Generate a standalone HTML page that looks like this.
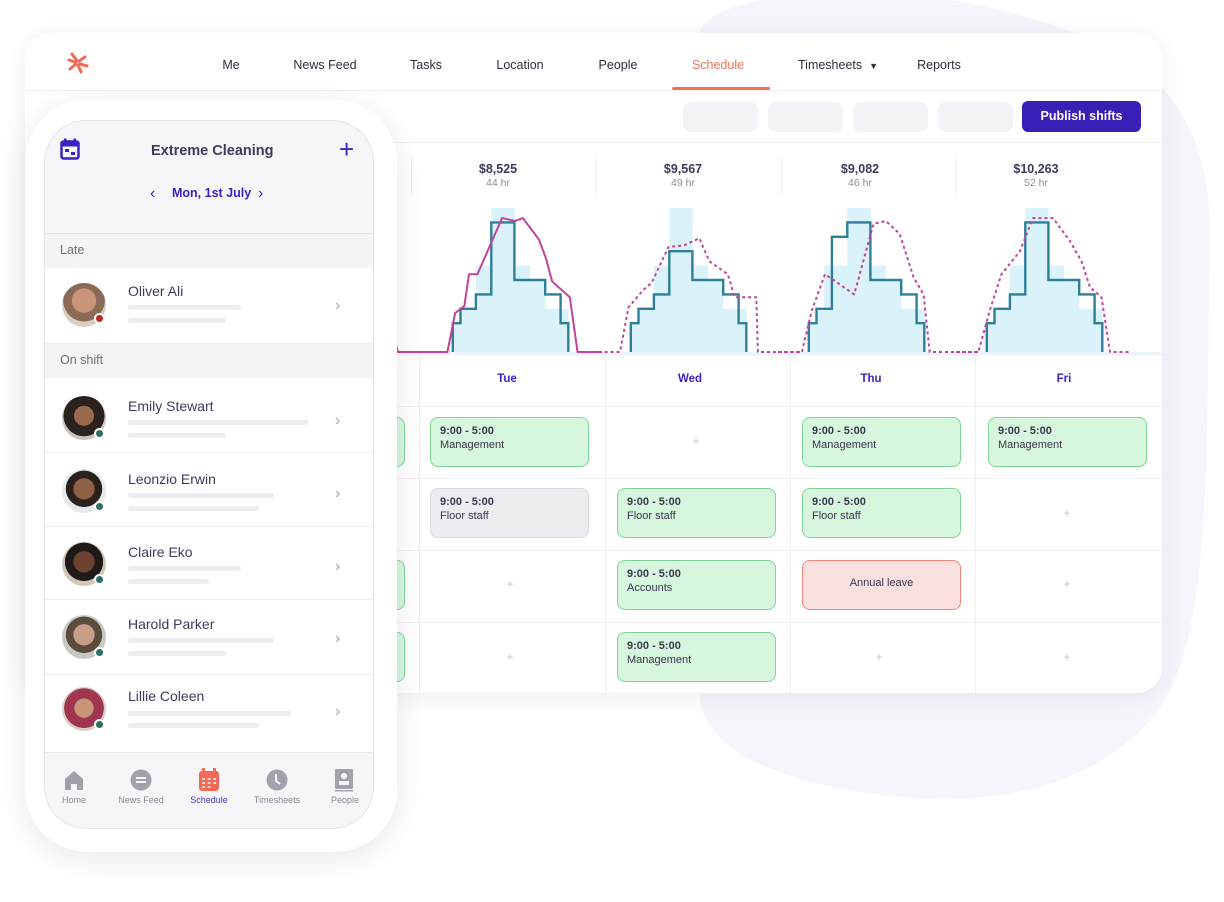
<!DOCTYPE html>
<html><head><meta charset="utf-8">
<style>
*{box-sizing:border-box;margin:0;padding:0}
body{width:1224px;height:902px;background:#fff;font-family:"Liberation Sans",sans-serif;position:relative;overflow:hidden;color:#3a3650}
.abs{position:absolute}
.nav{position:absolute;top:58px;font-size:12.5px;color:#2f2d3a;transform:translateX(-50%);white-space:nowrap}
.tb{position:absolute;top:102px;width:75px;height:30px;background:#f3f3f8;border-radius:8px}
.sum{position:absolute;top:162px;width:120px;margin-left:-60px;text-align:center}
.sum b{display:block;font-size:12.5px;color:#3f3a5c}
.sum span{display:block;font-size:10.5px;color:#8e8c99;margin-top:1px}
.vd{position:absolute;width:1px;background:#efeff3}
.hd{position:absolute;top:373px;font-size:11.5px;font-weight:bold;color:#3b22c4;transform:translateX(-50%)}
.card{position:absolute;width:159px;height:50px;border-radius:8px;border:1.5px solid #80d596;background:#d6f6dd;padding:6px 9px;font-size:11px;color:#3a3650;line-height:14px}
.card b{display:block}
.card.gray{background:#ececf1;border-color:#d9d9e0}
.card.red{background:#fbe0e0;border-color:#f0867a;text-align:center;padding-top:15px}
.plus{position:absolute;font-size:12px;color:#c4c4cc;transform:translate(-50%,-50%)}
.row{position:absolute;left:45px;width:328px;background:#fff;border-bottom:1px solid #efeff3}
.av{position:absolute;left:17px;width:44px;height:44px;border-radius:50%}
.dot{position:absolute;left:49px;width:11px;height:11px;border-radius:50%;border:2px solid #fff}
.nm{position:absolute;left:83px;font-size:14px;color:#3f3a5c}
.bar{position:absolute;left:83px;height:5px;border-radius:3px;background:#ececf1}
.chev{position:absolute;left:290px;font-size:16px;color:#a5a5ad}
.sec{position:absolute;left:45px;width:328px;height:34px;background:#f5f5f8;font-size:12.5px;color:#6f6d7a;padding:9px 0 0 15px}
.bn{position:absolute;top:795px;font-size:9px;color:#8a8896;transform:translateX(-50%)}
</style></head>
<body>
<svg class="abs" style="left:0;top:0" width="1224" height="902">
<path d="M700 30 C720 -10 880 -20 1000 10 C1120 40 1215 80 1210 250 C1205 450 1215 650 1150 720 C1080 800 960 810 850 790 C760 775 690 740 700 680 Z" fill="#f6f5fc"/>
</svg>

<div class="abs" style="left:25px;top:33px;width:1137px;height:660px;background:#fff;border-radius:26px;box-shadow:0 4px 24px rgba(40,30,80,0.08);overflow:hidden">
  <div class="abs" style="left:0;top:57px;width:1137px;height:1px;background:#efeff3"></div>
</div>

<svg class="abs" style="left:66px;top:51px" width="24" height="24" viewBox="0 0 24 24">
<g stroke="#f06a55" stroke-width="3" stroke-linecap="round" fill="none">
<path d="M11 10 L6 3"/><path d="M13 10 L19 6"/><path d="M14 13 L21 15"/><path d="M12 14 L15 21"/><path d="M10 13 L4 18"/><path d="M9 11 L3 9"/>
</g></svg>

<div class="nav" style="left:231px">Me</div>
<div class="nav" style="left:325px">News Feed</div>
<div class="nav" style="left:426px">Tasks</div>
<div class="nav" style="left:520px">Location</div>
<div class="nav" style="left:618px">People</div>
<div class="nav" style="left:718px;color:#f0705a">Schedule</div>
<div class="abs" style="left:672px;top:87px;width:98px;height:3px;background:#f0705a;border-radius:2px"></div>
<div class="nav" style="left:838px">Timesheets &nbsp;<span style="font-size:9px">▼</span></div>
<div class="nav" style="left:939px">Reports</div>

<div class="tb" style="left:683px"></div>
<div class="tb" style="left:768px"></div>
<div class="tb" style="left:853px"></div>
<div class="tb" style="left:938px"></div>
<div class="abs" style="left:1022px;top:101px;width:119px;height:31px;background:#3a1fb6;border-radius:6px;color:#fff;font-size:12.5px;font-weight:bold;text-align:center;line-height:31px">Publish shifts</div>

<div class="abs" style="left:396px;top:142px;width:766px;height:1px;background:#f0f0f3"></div>
<div class="vd" style="left:411px;top:158px;height:37px"></div>
<div class="vd" style="left:596px;top:158px;height:37px"></div>
<div class="vd" style="left:781px;top:158px;height:37px"></div>
<div class="vd" style="left:955px;top:158px;height:37px"></div>

<div class="sum" style="left:498px"><b>$8,525</b><span>44 hr</span></div>
<div class="sum" style="left:683px"><b>$9,567</b><span>49 hr</span></div>
<div class="sum" style="left:860px"><b>$9,082</b><span>46 hr</span></div>
<div class="sum" style="left:1036px"><b>$10,263</b><span>52 hr</span></div>

<svg id="chart" class="abs" style="left:0;top:0" width="1224" height="902"></svg>

<!-- grid -->
<div class="abs" style="left:396px;top:354px;width:766px;height:1px;background:#eeeef2"></div>
<div class="abs" style="left:396px;top:406px;width:766px;height:1px;background:#f0f0f3"></div>
<div class="abs" style="left:396px;top:478px;width:766px;height:1px;background:#f0f0f3"></div>
<div class="abs" style="left:396px;top:550px;width:766px;height:1px;background:#f0f0f3"></div>
<div class="abs" style="left:396px;top:622px;width:766px;height:1px;background:#f0f0f3"></div>
<div class="vd" style="left:419px;top:355px;height:338px"></div>
<div class="vd" style="left:605px;top:355px;height:338px"></div>
<div class="vd" style="left:790px;top:355px;height:338px"></div>
<div class="vd" style="left:975px;top:355px;height:338px"></div>

<div class="hd" style="left:507px">Tue</div>
<div class="hd" style="left:690px">Wed</div>
<div class="hd" style="left:871px">Thu</div>
<div class="hd" style="left:1064px">Fri</div>

<div class="card" style="left:246px;top:417px"></div>
<div class="card" style="left:246px;top:560px"></div>
<div class="card" style="left:246px;top:632px"></div>

<div class="card" style="left:430px;top:417px"><b>9:00 - 5:00</b>Management</div>
<div class="card gray" style="left:430px;top:488px"><b>9:00 - 5:00</b>Floor staff</div>
<div class="card" style="left:617px;top:488px"><b>9:00 - 5:00</b>Floor staff</div>
<div class="card" style="left:617px;top:560px"><b>9:00 - 5:00</b>Accounts</div>
<div class="card" style="left:617px;top:632px"><b>9:00 - 5:00</b>Management</div>
<div class="card" style="left:802px;top:417px"><b>9:00 - 5:00</b>Management</div>
<div class="card" style="left:802px;top:488px"><b>9:00 - 5:00</b>Floor staff</div>
<div class="card red" style="left:802px;top:560px">Annual leave</div>
<div class="card" style="left:988px;top:417px"><b>9:00 - 5:00</b>Management</div>

<div class="plus" style="left:696px;top:441px">+</div>
<div class="plus" style="left:1067px;top:513px">+</div>
<div class="plus" style="left:510px;top:584px">+</div>
<div class="plus" style="left:1067px;top:584px">+</div>
<div class="plus" style="left:510px;top:657px">+</div>
<div class="plus" style="left:879px;top:657px">+</div>
<div class="plus" style="left:1067px;top:657px">+</div>

<!-- phone -->
<div class="abs" style="left:25px;top:100px;width:372px;height:752px;background:#fff;border-radius:62px;box-shadow:0 6px 30px rgba(40,30,80,0.10)"></div>
<div class="abs" style="left:44px;top:120px;width:330px;height:709px;background:#f6f6f9;border-radius:42px;border:1px solid #e4e4ec;overflow:hidden"></div>

<svg class="abs" style="left:60px;top:138px" width="20" height="22" viewBox="0 0 20 22">
<rect x="1.5" y="3.5" width="17" height="17" rx="2" fill="none" stroke="#3b22c4" stroke-width="2.5"/><rect x="1.5" y="3.5" width="17" height="5" fill="#3b22c4"/>
<rect x="4" y="0.5" width="2.5" height="5" fill="#3b22c4"/><rect x="13.5" y="0.5" width="2.5" height="5" fill="#3b22c4"/>
<rect x="5" y="11" width="4" height="3" fill="#3b22c4"/><rect x="11" y="14" width="4" height="3" fill="#3b22c4"/></svg>
<div class="abs" style="left:151px;top:143px;font-size:14.5px;font-weight:bold;color:#3f3a5c">Extreme Cleaning</div>
<div class="abs" style="left:339px;top:134px;font-size:26px;color:#3b22c4;line-height:30px">+</div>
<div class="abs" style="left:150px;top:185px;font-size:16px;color:#3b22c4">‹</div>
<div class="abs" style="left:172px;top:186px;font-size:12.5px;font-weight:bold;color:#3b22c4">Mon, 1st July</div>
<div class="abs" style="left:258px;top:185px;font-size:16px;color:#3b22c4">›</div>
<div class="abs" style="left:45px;top:233px;width:328px;height:1px;background:#e2e2e8"></div>

<div class="sec" style="top:234px">Late</div>
<div class="row" style="top:268px;height:76px">
 <div class="av" style="top:15px;background:radial-gradient(circle at 50% 40%,#c9957a 0 35%,#8a6a55 36% 60%,#d8cdc0 61%)"></div>
 <div class="dot" style="top:45px;background:#c0271e"></div>
 <div class="nm" style="top:15px">Oliver Ali</div><div class="bar" style="top:37px;width:113px"></div><div class="bar" style="top:50px;width:98px"></div>
 <div class="chev" style="top:29px">›</div></div>
<div class="sec" style="top:344px">On shift</div>
<div class="row" style="top:378px;height:75px">
 <div class="av" style="top:18px;background:radial-gradient(circle at 50% 45%,#9a6a4e 0 30%,#2b2220 31% 62%,#c8c4be 63%)"></div>
 <div class="dot" style="top:50px;background:#2c6e62"></div>
 <div class="nm" style="top:20px">Emily Stewart</div><div class="bar" style="top:42px;width:180px"></div><div class="bar" style="top:55px;width:98px"></div>
 <div class="chev" style="top:34px">›</div></div>
<div class="row" style="top:453px;height:74px">
 <div class="av" style="top:16px;background:radial-gradient(circle at 50% 45%,#8d5f45 0 32%,#2a211c 33% 55%,#e4e8ea 56%)"></div>
 <div class="dot" style="top:48px;background:#2c6e62"></div>
 <div class="nm" style="top:18px">Leonzio Erwin</div><div class="bar" style="top:40px;width:146px"></div><div class="bar" style="top:53px;width:131px"></div>
 <div class="chev" style="top:32px">›</div></div>
<div class="row" style="top:527px;height:73px">
 <div class="av" style="top:15px;background:radial-gradient(circle at 50% 45%,#6b4330 0 32%,#1f1a18 33% 58%,#d0c7bb 59%)"></div>
 <div class="dot" style="top:47px;background:#2c6e62"></div>
 <div class="nm" style="top:17px">Claire Eko</div><div class="bar" style="top:39px;width:113px"></div><div class="bar" style="top:52px;width:81px"></div>
 <div class="chev" style="top:31px">›</div></div>
<div class="row" style="top:600px;height:75px">
 <div class="av" style="top:15px;background:radial-gradient(circle at 50% 45%,#c79f86 0 32%,#5c4c3e 33% 55%,#c5c9c2 56%)"></div>
 <div class="dot" style="top:47px;background:#2c6e62"></div>
 <div class="nm" style="top:16px">Harold Parker</div><div class="bar" style="top:38px;width:146px"></div><div class="bar" style="top:51px;width:98px"></div>
 <div class="chev" style="top:30px">›</div></div>
<div class="row" style="top:675px;height:78px;border-bottom:1px solid #e8e8ee">
 <div class="av" style="top:12px;background:radial-gradient(circle at 50% 48%,#c89676 0 30%,#a03550 31% 62%,#d7cfc6 63%)"></div>
 <div class="dot" style="top:44px;background:#2c6e62"></div>
 <div class="nm" style="top:13px">Lillie Coleen</div><div class="bar" style="top:36px;width:163px"></div><div class="bar" style="top:48px;width:131px"></div>
 <div class="chev" style="top:28px">›</div></div>

<!-- bottom nav -->
<svg class="abs" style="left:63px;top:769px" width="22" height="22" viewBox="0 0 22 22"><path d="M2 10 L11 2 L20 10 V21 H14 V15 H8 V21 H2 Z" fill="#a2a1ab"/></svg>
<div class="bn" style="left:74px">Home</div>
<svg class="abs" style="left:130px;top:769px" width="22" height="22" viewBox="0 0 22 22"><circle cx="11" cy="11" r="10.5" fill="#a2a1ab"/><rect x="6" y="8" width="10" height="2" fill="#f6f6f9"/><rect x="6" y="12" width="10" height="2" fill="#f6f6f9"/></svg>
<div class="bn" style="left:141px">News Feed</div>
<svg class="abs" style="left:198px;top:768px" width="22" height="24" viewBox="0 0 22 24"><rect x="1" y="3" width="20" height="20" rx="3" fill="#f06a55"/><rect x="4" y="0" width="3" height="5" fill="#f06a55"/><rect x="15" y="0" width="3" height="5" fill="#f06a55"/><g fill="#fbd2cb"><rect x="4" y="10" width="3" height="2"/><rect x="9.5" y="10" width="3" height="2"/><rect x="15" y="10" width="3" height="2"/><rect x="4" y="14" width="3" height="2"/><rect x="9.5" y="14" width="3" height="2"/><rect x="15" y="14" width="3" height="2"/><rect x="4" y="18" width="3" height="2"/><rect x="9.5" y="18" width="3" height="2"/></g></svg>
<div class="bn" style="left:209px;color:#4a33c9">Schedule</div>
<svg class="abs" style="left:266px;top:769px" width="22" height="22" viewBox="0 0 22 22"><circle cx="11" cy="11" r="10.5" fill="#a2a1ab"/><path d="M10 5 V12 L14 15" stroke="#f6f6f9" stroke-width="2" fill="none"/></svg>
<div class="bn" style="left:277px">Timesheets</div>
<svg class="abs" style="left:334px;top:769px" width="20" height="23" viewBox="0 0 20 23"><rect x="1" y="0" width="18" height="20" rx="1.5" fill="#a2a1ab"/><circle cx="10" cy="7" r="3" fill="#f6f6f9"/><rect x="5" y="12" width="10" height="4" fill="#f6f6f9"/><rect x="1" y="21" width="18" height="1.5" fill="#a2a1ab"/></svg>
<div class="bn" style="left:345px">People</div>

<script>
// Chart data (hour-indexed, 24 per day)
const days = ["Tue","Wed","Thu","Fri"];
const staffTue = [0,0,0,0,2,3,3,4,4,9,9,9,5,5,5,5,4,4,2,0,0,0,0,0];
const staffWed = [0,0,0,0,2,3,3,4,4,7,7,7,5,5,5,5,4,4,2,0,0,0,0,0];
const staffThu = [0,0,0,0,2,3,3,8,8,9,9,9,5,5,5,5,4,4,2,0,0,0,0,0];
const staffFri = [0,0,0,0,2,3,3,4,4,9,9,9,5,5,5,5,4,4,2,0,0,0,0,0];
const demandTue = [0,0,0,0,2,3,3,6,6,10,10,10,6,6,5,5,3,3,3,0,0,0,0,0];
const demandWed = [0,0,0,0,2,3,3,6,6,10,10,10,6,6,5,5,3,3,3,0,0,0,0,0];
const demandThu = [0,0,0,0,2,3,6,6,6,10,10,10,6,6,5,5,3,3,3,0,0,0,0,0];
const demandFri = [0,0,0,0,2,3,3,6,6,10,10,10,6,6,5,5,3,3,3,0,0,0,0,0];
const fcHoursTue = [-3.4,-3.1,3.3,4.3,5.5,6.1,7.2,10.4,12.1,13.1,15.2,16.1,16.9,19.2,20.2,23.4];
const fcValsTue  = [0.5,0,0,2.7,3.2,5.4,5.4,9.3,9.1,9.3,7.8,6.5,4.9,3.8,0,0];
const fcHoursWed = [0.6,2.6,3.7,5.6,6.7,8.9,10.9,12.9,14.2,16.6,17.5,20.3,20.5,26];
const fcValsWed  = [0,0,3.1,4.3,4.8,7.3,7.4,7.9,6.3,5.4,3.8,3.8,0,0];
const fcHoursThu = [0,3.1,4.4,6.1,7.2,9.9,12.4,14,15.8,17.6,18.9,19.7,26];
const fcValsThu  = [0,0,2.9,5.4,5.0,4.0,8.9,9.1,8.2,5.2,4.0,0,0];
const fcHoursFri = [0,2.9,4.4,5.9,8.3,10,12.6,14.8,16.3,17.4,18.9,20,22.5];
const fcValsFri  = [0,0,2.9,5.4,7.0,9.3,9.3,7.7,6.3,4.5,3.8,0,0];

const staff=[staffTue,staffWed,staffThu,staffFri];
const demand=[demandTue,demandWed,demandThu,demandFri];
const fcH=[fcHoursTue,fcHoursWed,fcHoursThu,fcHoursFri];
const fcV=[fcValsTue,fcValsWed,fcValsThu,fcValsFri];

const NS="http://www.w3.org/2000/svg";
const svg=document.getElementById('chart');
const BASE=352, UNIT=14.4, HPX=7.7;
function xS(d,h){return 422+178*d+h*HPX;}
function yS(v){return BASE-v*UNIT;}
function mk(tag,attrs){const e=document.createElementNS(NS,tag);for(const k in attrs)e.setAttribute(k,attrs[k]);svg.appendChild(e);return e;}

for(let d=0;d<days.length;d++){
  for(let h=0;h<24;h++){
    if(demand[d][h]>0){
      const r=mk('rect',{x:xS(d,h),y:yS(demand[d][h]),width:HPX+0.3,height:demand[d][h]*UNIT,fill:'#daf3fb'});
      
      
    }
  }
}
mk('line',{x1:396,y1:BASE+1,x2:1160,y2:BASE+1,stroke:'#e9f6fb','stroke-width':2});
for(let d=0;d<days.length;d++){
  let pts=[],first=-1,last=-1;
  for(let h=0;h<24;h++){if(staff[d][h]>0){if(first<0)first=h;last=h;}}
  pts.push([xS(d,first),BASE]);
  for(let h=first;h<=last;h++){pts.push([xS(d,h),yS(staff[d][h])]);pts.push([xS(d,h+1),yS(staff[d][h])]);}
  pts.push([xS(d,last+1),BASE]);
  const p=mk('polyline',{points:pts.map(p=>p.join(',')).join(' '),fill:'none',stroke:'#2f7f9a','stroke-width':2.4,'stroke-linejoin':'miter'});
  
  
}
for(let d=0;d<days.length;d++){
  const pts=fcH[d].map((h,i)=>xS(d,h)+','+yS(fcV[d][i])).join(' ');
  const attrs={points:pts,fill:'none',stroke:'#c2449a','stroke-width':2,'stroke-linejoin':'round'};
  if(d>0){attrs['stroke-dasharray']='3 3';}
  const l=mk('polyline',attrs);
  
  
}
</script>
</body></html>
